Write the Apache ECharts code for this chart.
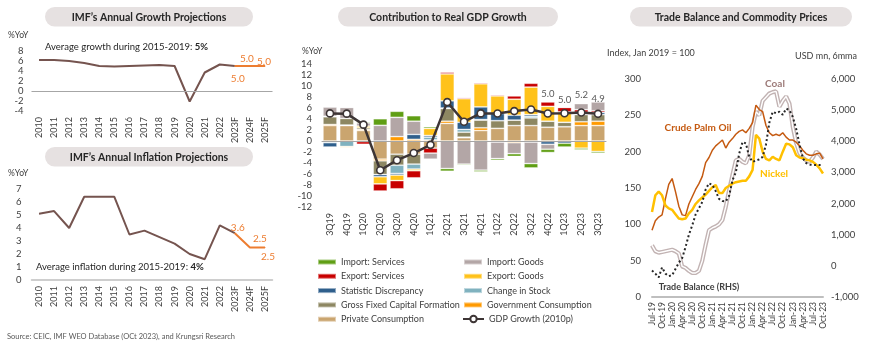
<!DOCTYPE html>
<html>
<head>
<meta charset="utf-8">
<script src="https://cdn.jsdelivr.net/npm/echarts@6/dist/echarts.min.js"></script>
<style>
html, body { margin: 0; padding: 0; background: #fff; }
#main { width: 870px; height: 352px; }
</style>
</head>
<body>
<div id="main"></div>
<script>
// ---- data: IMF projections (left panels)
var years = ['2010', '2011', '2012', '2013', '2014', '2015', '2016', '2017', '2018', '2019', '2020', '2021', '2022', '2023F', '2024F', '2025F'];
var growth = [6.2, 6.2, 6.0, 5.6, 5.0, 4.9, 5.0, 5.1, 5.2, 5.0, -2.1, 3.7, 5.3, 5.0, 5.0, 5.0];
var inflation = [5.1, 5.3, 4.0, 6.4, 6.4, 6.4, 3.5, 3.8, 3.3, 2.8, 2.0, 1.6, 4.2, 3.6, 2.5, 2.5];
var forecastStart = 13; // index of 2023F

// ---- data: contribution to real GDP growth (middle panel)
var quarters = ['3Q19', '4Q19', '1Q20', '2Q20', '3Q20', '4Q20', '1Q21', '2Q21', '3Q21', '4Q21', '1Q22', '2Q22', '3Q22', '4Q22', '1Q23', '2Q23', '3Q23'];
var privateCons = [2.8, 2.8, 1.9, -3.3, -2.4, -2.4, -1.3, 3.2, 0.6, 1.9, 2.3, 2.8, 2.8, 2.5, 2.6, 2.8, 2.8];
var govCons = [0.2, 0.1, 0.2, -0.3, 0.8, 0.3, 0.2, 0.4, 0.1, 0.5, -0.2, -0.3, -0.2, -0.1, 0.0, 0.7, 0.8];
var gfcf = [1.4, 1.2, 0.3, -2.5, -2.0, -1.8, 0.0, 2.3, 0.9, 1.4, 1.4, 1.0, 1.4, 1.1, 0.8, 1.3, 1.2];
var changeStock = [-0.3, -1.0, -0.1, 0.0, -1.5, -0.9, 0.5, 0.1, 0.5, 0.1, 0.0, 0.0, 0.3, 0.0, 0.0, 0.2, 0.0];
var discrepancy = [-0.8, 0.0, 0.0, -0.4, -0.3, 0.9, 0.3, 1.3, 1.3, 2.3, 1.3, 0.9, 0.3, -0.5, -0.4, 0.2, 0.4];
var exportGoods = [0.1, -0.2, 0.3, -1.3, -1.0, -0.3, 1.3, 4.9, 4.3, 4.2, 3.2, 2.9, 5.0, 2.7, 1.9, -1.3, -1.9];
var exportServices = [0.0, 0.0, -0.5, -1.3, -1.5, -1.3, -0.9, 0.3, 0.2, 0.2, 0.2, 0.6, 0.7, 0.8, 0.8, 0.5, 0.3];
var importGoods = [1.7, 2.0, 0.6, 2.85, 3.5, 2.4, -1.1, -5.0, -4.2, -5.3, -3.0, -2.0, -3.9, -0.9, 0.0, 1.1, 1.6];
var importServices = [0.0, 0.0, 0.2, 1.2, 1.1, 1.0, 0.3, -0.5, -0.2, -0.3, -0.3, -0.5, -0.8, -0.6, -0.7, -0.3, -0.3];
var gdpGrowth = [5.02, 4.97, 2.97, -5.32, -3.49, -2.19, -0.70, 7.07, 3.51, 5.02, 5.01, 5.44, 5.73, 5.01, 5.04, 5.17, 4.94];

// ---- data: trade balance and commodity prices (right panel)
var months = ['Jul-19', 'Aug-19', 'Sep-19', 'Oct-19', 'Nov-19', 'Dec-19',
  'Jan-20', 'Feb-20', 'Mar-20', 'Apr-20', 'May-20', 'Jun-20', 'Jul-20', 'Aug-20', 'Sep-20', 'Oct-20', 'Nov-20', 'Dec-20',
  'Jan-21', 'Feb-21', 'Mar-21', 'Apr-21', 'May-21', 'Jun-21', 'Jul-21', 'Aug-21', 'Sep-21', 'Oct-21', 'Nov-21', 'Dec-21',
  'Jan-22', 'Feb-22', 'Mar-22', 'Apr-22', 'May-22', 'Jun-22', 'Jul-22', 'Aug-22', 'Sep-22', 'Oct-22', 'Nov-22', 'Dec-22',
  'Jan-23', 'Feb-23', 'Mar-23', 'Apr-23', 'May-23', 'Jun-23', 'Jul-23', 'Aug-23', 'Sep-23', 'Oct-23'];
var coal = [71, 63, 61, 62, 63, 64, 65, 63, 60, 42, 40, 36, 33, 33, 36, 50, 72, 92, 95, 97, 100, 106, 124, 147,
  168, 188, 190, 186, 184, 195, 234, 255, 250, 270, 275, 280, 282, 283, 262, 270, 276, 266, 234, 212, 198, 192, 188, 186, 192, 200, 196, 190];
var palmOil = [92, 105, 110, 113, 135, 155, 163, 145, 125, 113, 112, 128, 138, 148, 156, 166, 185, 192, 202, 208, 212, 216, 205, 213,
  218, 224, 228, 230, 226, 232, 240, 264, 258, 255, 236, 226, 222, 224, 222, 226, 220, 216, 216, 213, 208, 202, 197, 195, 195, 197, 198, 190];
var nickel = [117, 140, 145, 140, 126, 122, 120, 114, 108, 107, 108, 115, 120, 128, 133, 137, 141, 146, 151, 154, 143, 143, 150, 153,
  156, 158, 159, 160, 160, 166, 175, 223, 218, 200, 190, 188, 193, 190, 188, 200, 211, 210, 206, 195, 192, 191, 189, 188, 186, 182, 177, 170];
var tradeBalance = [-150, -250, -370, -50, -250, -330, -300, -100, 100, 250, 600, 1000, 1300, 1650, 1850, 2050, 2450, 2650,
  2600, 2400, 2150, 2080, 2070, 2250, 2750, 3000, 3600, 3980, 3930, 3500, 3340, 3380, 3420, 3500, 3900, 4600,
  4950, 4900, 4950, 4850, 5050, 5000, 4780, 4400, 3900, 3450, 3300, 3250, 3240, 3240, 3240, 3240];

// ---- styles
var FONT = 'Lato';
var TXT = '#404040';
var BROWN = '#75544f';
var ORANGE = '#ed7d31';
var growthLabels = { 13: ['bottom', [3, 7]], 14: ['top', [-3, -2]], 15: ['top', [-1, 1]] };
var inflationLabels = { 13: ['top', [3, 0]], 14: ['top', [10, -3]], 15: ['bottom', [3, 3.5]] };
var gdpLabelDistance = { 13: 10.6, 14: 3.8, 15: 8.4, 16: 6 };

function actualPart(arr) {
    return arr.map(function (v, i) { return i <= forecastStart ? v : null; });
}
function forecastPart(arr, labels) {
    return arr.map(function (v, i) {
        if (i < forecastStart) return null;
        var l = labels[i];
        return {
            value: v,
            label: { show: true, position: l[0], distance: 0, offset: l[1], color: ORANGE, fontSize: 10, fontFamily: FONT,
                formatter: function (p) { return p.value.toFixed(1); } }
        };
    });
}

function pill(x, y, w, h, text) {
    return [{
        type: 'rect', shape: { x: x, y: y, width: w, height: h, r: h / 2 },
        style: { fill: '#e6e1e1' }, silent: true
    }, {
        type: 'text', x: x + w / 2, y: y + h / 2 + 0.5, silent: true,
        style: { text: text, fill: '#262626', fontSize: 10.5, fontWeight: 'bold', fontFamily: FONT, align: 'center', verticalAlign: 'middle' }
    }];
}
function label(x, y, text, opts) {
    var st = { text: text, fill: TXT, fontSize: 9, fontFamily: FONT, align: 'left', verticalAlign: 'middle' };
    for (var k in opts) st[k] = opts[k];
    return { type: 'text', x: x, y: y, style: st, silent: true };
}

var graphics = []
    .concat(pill(45, 7, 208, 19.5, 'IMF\u2019s Annual Growth Projections'))
    .concat(pill(45, 147, 208, 19.5, 'IMF\u2019s Annual Inflation Projections'))
    .concat(pill(338, 7, 220, 19.5, 'Contribution to Real GDP Growth'))
    .concat(pill(630, 7, 222, 19.5, 'Trade Balance and Commodity Prices'));
graphics.push(
    label(8, 35, '%YoY', { fontSize: 8.5 }),
    label(8, 173, '%YoY', { fontSize: 8.5 }),
    label(302, 51, '%YoY', { fontSize: 8.5 }),
    {
        type: 'text', x: 45, y: 47, silent: true,
        style: { text: 'Average growth during 2015-2019: {b|5%}', fill: '#262626', fontSize: 9.5, fontFamily: FONT, verticalAlign: 'middle',
            rich: { b: { fontWeight: 'bold', fontSize: 9.5, fontFamily: FONT, fill: '#262626' } } }
    },
    {
        type: 'text', x: 36, y: 267, silent: true,
        style: { text: 'Average inflation during 2015-2019: {b|4%}', fill: '#262626', fontSize: 9.5, fontFamily: FONT, verticalAlign: 'middle',
            rich: { b: { fontWeight: 'bold', fontSize: 9.5, fontFamily: FONT, fill: '#262626' } } }
    },
    label(7, 337, 'Source: CEIC, IMF WEO Database (OCt 2023), and Krungsri Research', { fontSize: 7.5, fill: '#595959' }),
    label(607, 53, 'Index, Jan 2019 = 100', { fontSize: 9 }),
    label(857, 56, 'USD mn, 6mma', { fontSize: 9, align: 'right' }),
    label(775, 84, 'Coal', { fontSize: 10, fontWeight: 'bold', fill: '#9c7a78', align: 'center' }),
    label(698, 128, 'Crude Palm Oil', { fontSize: 10, fontWeight: 'bold', fill: '#c55a11', align: 'center' }),
    label(774, 174, 'Nickel', { fontSize: 10, fontWeight: 'bold', fill: '#ffc000', align: 'center' }),
    label(699, 287, 'Trade Balance (RHS)', { fontSize: 9, fontWeight: 'bold', fill: '#404040', align: 'center' })
);

function catAxis(grid, data, extra) {
    var a = {
        gridIndex: grid, type: 'category', data: data,
        axisLine: { show: false }, axisTick: { show: false },
        axisLabel: { rotate: 90, fontSize: 9, color: TXT, margin: 6, interval: 0, fontFamily: FONT }
    };
    for (var k in extra) a[k] = extra[k];
    return a;
}
function valAxis(grid, min, max, interval, extra) {
    var a = {
        gridIndex: grid, type: 'value', min: min, max: max, interval: interval,
        axisLine: { show: false }, axisTick: { show: false }, splitLine: { show: false },
        axisLabel: { fontSize: 9.5, color: TXT, margin: 8, fontFamily: FONT }
    };
    for (var k in extra) a[k] = extra[k];
    return a;
}

function bar(name, data, color) {
    return {
        name: name, type: 'bar', stack: 'gdp', xAxisIndex: 2, yAxisIndex: 2, data: data, barWidth: '84%',
        itemStyle: { color: color, borderColor: 'rgba(255,255,255,0.45)', borderWidth: 0.8 }
    };
}
var zeroLine = { silent: true, symbol: ['none', 'none'], label: { show: false }, data: [{ yAxis: 0 }],
    lineStyle: { color: '#a6a6a6', width: 1.2, type: 'solid' } };

var legendText = { fontSize: 9, color: TXT, fontFamily: FONT, lineHeight: 12 };

var option = {
    animation: false,
    textStyle: { fontFamily: FONT },
    graphic: graphics,
    grid: [
        { left: 31.5, top: 51, width: 241, height: 60, outerBoundsMode: 'none' },
        { left: 31.5, top: 189, width: 241, height: 91, outerBoundsMode: 'none' },
        { left: 321.6, top: 64, width: 284.8, height: 143, outerBoundsMode: 'none' },
        { left: 652, top: 79, width: 171, height: 218, outerBoundsMode: 'none' }
    ],
    legend: [
        { left: 317, top: 256, padding: 0, orient: 'vertical', icon: 'rect', itemWidth: 18, itemHeight: 5, itemGap: 2.3, selectedMode: false,
          textStyle: legendText,
          data: ['Import: Services', 'Export: Services', 'Statistic Discrepancy', 'Gross Fixed Capital Formation', 'Private Consumption'] },
        { left: 463, top: 256, padding: 0, orient: 'vertical', icon: 'rect', itemWidth: 18, itemHeight: 5, itemGap: 2.3, selectedMode: false,
          textStyle: legendText,
          data: ['Import: Goods', 'Export: Goods', 'Change in Stock', 'Government Consumption'] },
        { left: 462, top: 313, padding: 0, orient: 'vertical', itemWidth: 21, itemHeight: 8, selectedMode: false,
          textStyle: legendText, data: ['GDP Growth (2010p)'] }
    ],
    xAxis: [
        catAxis(0, years),
        catAxis(1, years, { axisLine: { show: true, lineStyle: { color: '#bfbfbf', width: 1.5 } } }),
        catAxis(2, quarters),
        catAxis(3, months, {
            boundaryGap: false,
            axisLine: { show: true, lineStyle: { color: '#bfbfbf', width: 2 } },
            axisLabel: { rotate: 90, fontSize: 8.5, color: TXT, margin: 5, interval: 2, fontFamily: FONT }
        })
    ],
    yAxis: [
        valAxis(0, -4, 8, 2),
        valAxis(1, 0, 7, 1, { axisLabel: { fontSize: 9.5, color: TXT, margin: 10, fontFamily: FONT } }),
        valAxis(2, -12, 14, 2, { axisLabel: { fontSize: 9.5, color: TXT, margin: 9.5, fontFamily: FONT } }),
        valAxis(3, 0, 300, 50, { axisLabel: { fontSize: 9.5, color: TXT, margin: 11, fontFamily: FONT } }),
        valAxis(3, -1000, 6000, 1000, {
            position: 'right',
            axisLabel: { fontSize: 9.5, color: TXT, margin: 8, fontFamily: FONT,
                formatter: function (v) { return v.toLocaleString('en-US'); } }
        })
    ],
    series: [
        // growth
        { type: 'line', xAxisIndex: 0, yAxisIndex: 0, data: actualPart(growth), symbol: 'none',
          lineStyle: { color: BROWN, width: 2 }, markLine: zeroLine },
        { type: 'line', xAxisIndex: 0, yAxisIndex: 0, data: forecastPart(growth, growthLabels), symbol: 'circle', symbolSize: 1,
          itemStyle: { color: ORANGE }, lineStyle: { color: ORANGE, width: 2 } },
        // inflation
        { type: 'line', xAxisIndex: 1, yAxisIndex: 1, data: actualPart(inflation), symbol: 'none',
          lineStyle: { color: BROWN, width: 2 } },
        { type: 'line', xAxisIndex: 1, yAxisIndex: 1, data: forecastPart(inflation, inflationLabels), symbol: 'circle', symbolSize: 1,
          itemStyle: { color: ORANGE }, lineStyle: { color: ORANGE, width: 2 } },
        // GDP contributions
        bar('Private Consumption', privateCons, '#caa56f'),
        bar('Government Consumption', govCons, '#ff9a00'),
        bar('Gross Fixed Capital Formation', gfcf, '#8d8762'),
        bar('Change in Stock', changeStock, '#80b2bf'),
        bar('Statistic Discrepancy', discrepancy, '#2f5f8c'),
        bar('Export: Goods', exportGoods, '#ffc21a'),
        bar('Export: Services', exportServices, '#c80000'),
        bar('Import: Goods', importGoods, '#b3a6a6'),
        bar('Import: Services', importServices, '#5f9e14'),
        {
            name: 'GDP Growth (2010p)', type: 'line', xAxisIndex: 2, yAxisIndex: 2, z: 5,
            data: gdpGrowth.map(function (v, i) {
                if (gdpLabelDistance[i] === undefined) return v;
                return { value: v, label: { show: true, position: 'top', distance: gdpLabelDistance[i], color: '#595959', fontSize: 9.5,
                    fontFamily: FONT, formatter: function (p) { return p.value.toFixed(1); } } };
            }),
            symbol: 'circle', symbolSize: 7,
            itemStyle: { color: '#ffffff', borderColor: '#3d3535', borderWidth: 1.6 },
            lineStyle: { color: '#3d3535', width: 2.5 },
            markLine: zeroLine
        },
        // trade & commodities
        { name: 'Coal', type: 'line', xAxisIndex: 3, yAxisIndex: 3, data: coal, symbol: 'none',
          lineStyle: { color: '#c2b3b3', width: 4.2 } },
        { name: 'Coal inner', type: 'line', xAxisIndex: 3, yAxisIndex: 3, data: coal, symbol: 'none',
          lineStyle: { color: '#ffffff', width: 1.4 } },
        { name: 'Crude Palm Oil', type: 'line', xAxisIndex: 3, yAxisIndex: 3, data: palmOil, symbol: 'none',
          lineStyle: { color: '#c55a11', width: 1.5 } },
        { name: 'Nickel', type: 'line', xAxisIndex: 3, yAxisIndex: 3, data: nickel, symbol: 'none',
          lineStyle: { color: '#ffc000', width: 2.5 } },
        { name: 'Trade Balance (RHS)', type: 'line', xAxisIndex: 3, yAxisIndex: 4, data: tradeBalance, symbol: 'none',
          lineStyle: { color: '#262626', width: 2, type: [2, 2.5] } }
    ]
};

var myChart = echarts.init(document.getElementById('main'));
myChart.setOption(option);
</script>
</body>
</html>
